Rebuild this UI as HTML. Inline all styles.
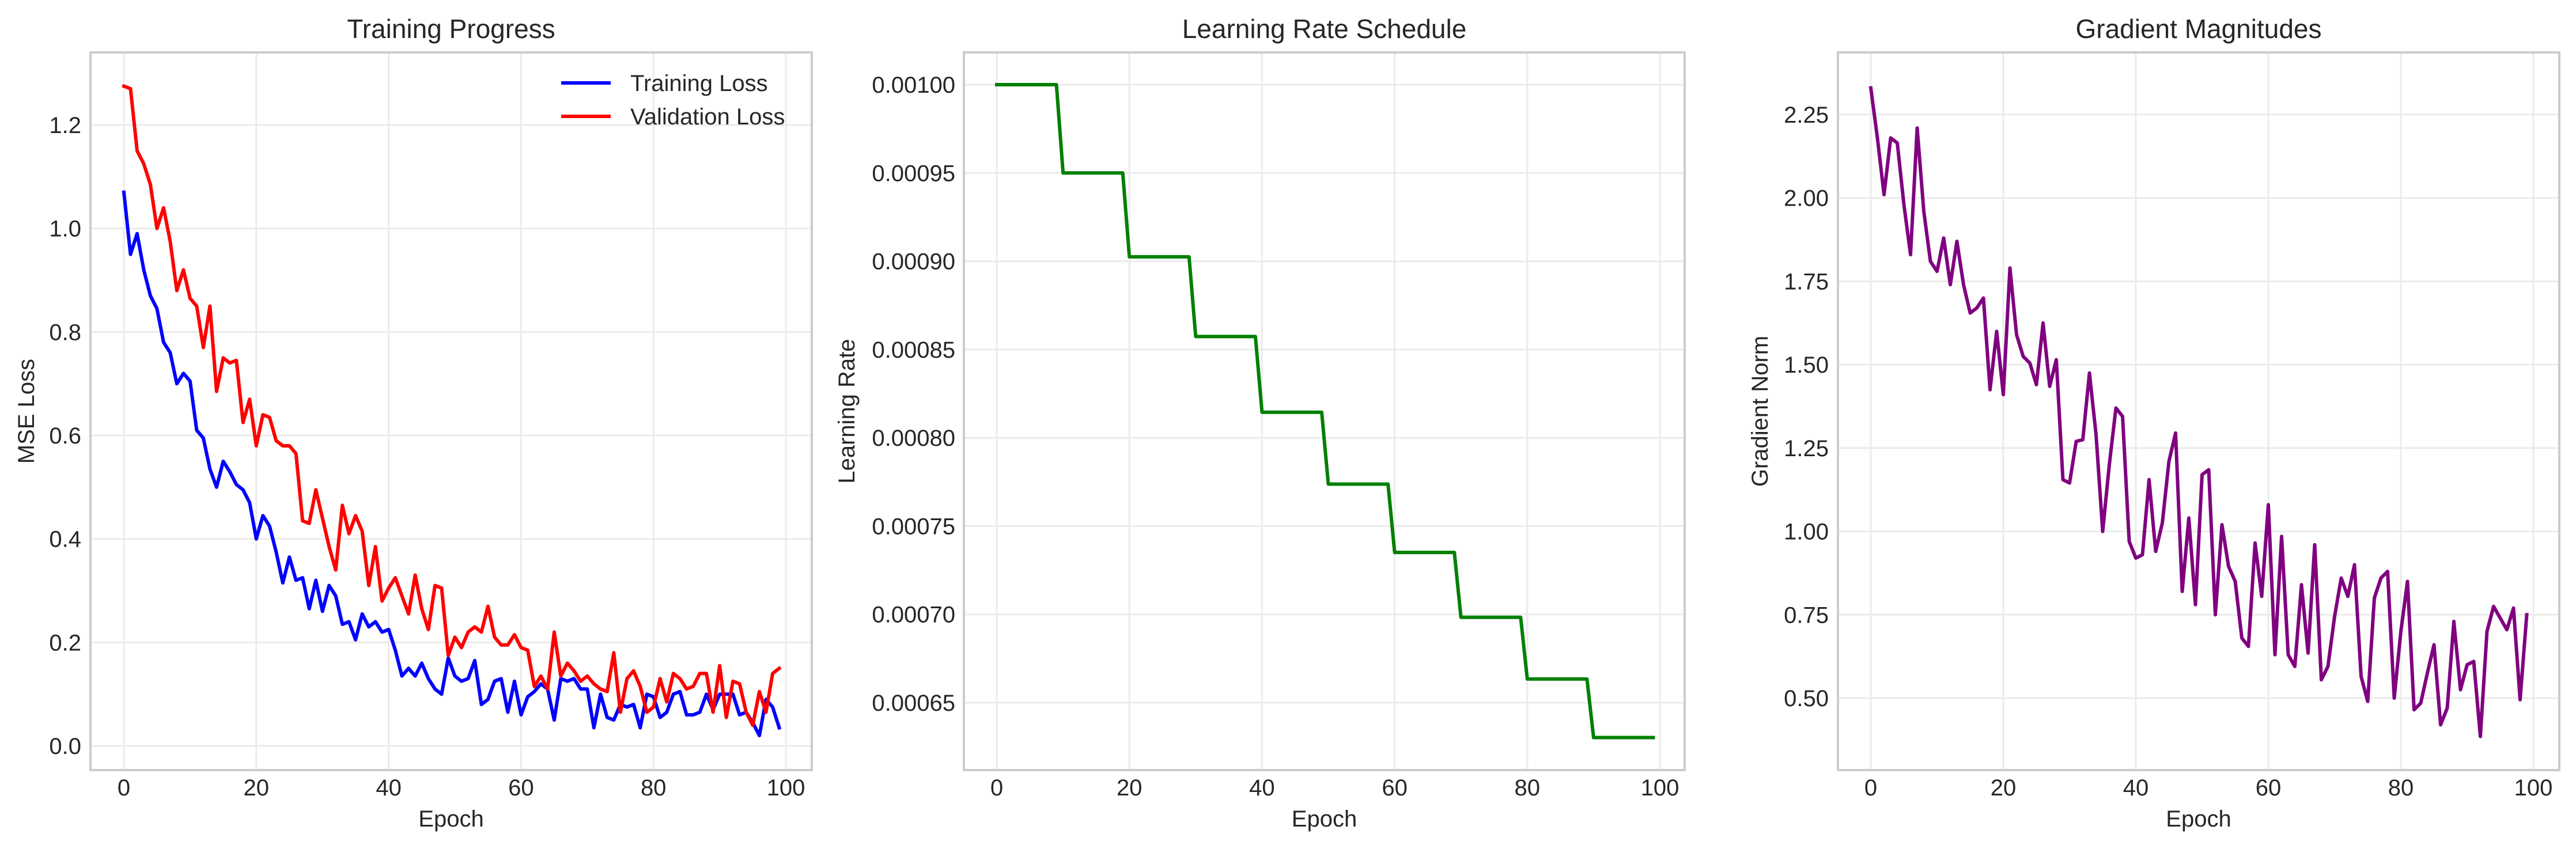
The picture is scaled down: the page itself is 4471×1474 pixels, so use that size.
<!DOCTYPE html>
<html><head><meta charset="utf-8"><style>
html,body{margin:0;padding:0;background:#fff}
svg{display:block;font-family:"Liberation Sans",Arial,sans-serif}
</style></head><body>
<svg id="fig" width="4471" height="1474" viewBox="0 0 4471 1474" xmlns="http://www.w3.org/2000/svg"></svg>
<script>
const epochs = Array.from({length:100},(_, i)=>i);
const trainLoss = [1.07,0.95,0.99,0.92,0.87,0.845,0.78,0.76,0.70,0.72,0.705,0.61,0.595,0.535,0.50,0.55,0.53,0.505,0.495,0.47,0.40,0.445,0.425,0.375,0.315,0.365,0.32,0.325,0.265,0.32,0.26,0.31,0.29,0.235,0.24,0.205,0.255,0.23,0.24,0.22,0.225,0.185,0.135,0.15,0.135,0.16,0.13,0.11,0.10,0.17,0.135,0.125,0.13,0.165,0.08,0.09,0.125,0.13,0.065,0.125,0.06,0.095,0.105,0.12,0.11,0.05,0.13,0.125,0.13,0.11,0.11,0.035,0.10,0.055,0.05,0.08,0.075,0.08,0.035,0.10,0.095,0.055,0.065,0.10,0.105,0.06,0.06,0.065,0.10,0.07,0.10,0.10,0.10,0.06,0.065,0.045,0.02,0.09,0.075,0.035];
const valLoss = [1.275,1.27,1.15,1.125,1.085,1.00,1.04,0.975,0.88,0.92,0.865,0.85,0.77,0.85,0.685,0.75,0.74,0.745,0.625,0.67,0.58,0.64,0.635,0.59,0.58,0.58,0.565,0.435,0.43,0.495,0.44,0.385,0.34,0.465,0.41,0.445,0.415,0.31,0.385,0.28,0.305,0.325,0.29,0.255,0.33,0.265,0.225,0.31,0.305,0.175,0.21,0.19,0.22,0.23,0.22,0.27,0.21,0.195,0.195,0.215,0.19,0.185,0.115,0.135,0.11,0.22,0.135,0.16,0.145,0.125,0.135,0.12,0.11,0.105,0.18,0.065,0.13,0.145,0.115,0.065,0.075,0.13,0.085,0.14,0.13,0.11,0.115,0.14,0.14,0.065,0.155,0.055,0.125,0.12,0.065,0.04,0.105,0.065,0.14,0.15];
const lrValues = [0.001,0.00095,0.0009025,0.000857375,0.00081450625,0.0007737809375,0.000735091890625,0.00069833729609375,0.0006634204312890625,0.0006302494097246094];
const gradNorm = [2.33,2.18,2.01,2.18,2.165,1.98,1.83,2.21,1.96,1.81,1.78,1.88,1.74,1.87,1.74,1.655,1.67,1.70,1.425,1.60,1.41,1.79,1.59,1.525,1.505,1.44,1.625,1.435,1.515,1.155,1.145,1.27,1.275,1.475,1.29,1.00,1.20,1.37,1.345,0.97,0.92,0.93,1.155,0.94,1.025,1.21,1.295,0.82,1.04,0.78,1.17,1.185,0.75,1.02,0.895,0.85,0.68,0.655,0.965,0.805,1.08,0.63,0.985,0.63,0.595,0.84,0.635,0.96,0.555,0.595,0.745,0.86,0.805,0.90,0.565,0.49,0.80,0.86,0.88,0.50,0.70,0.85,0.465,0.485,0.575,0.66,0.42,0.47,0.73,0.525,0.60,0.61,0.385,0.70,0.775,0.74,0.705,0.77,0.495,0.75];
const xTicks = [0,20,40,60,80,100];
const lossTicks = [0,0.2,0.4,0.6,0.8,1.0,1.2];
const lrTicks = [0.00065,0.0007,0.00075,0.0008,0.00085,0.0009,0.00095,0.001];
const gradTicks = [0.5,0.75,1.0,1.25,1.5,1.75,2.0,2.25];

const NS='http://www.w3.org/2000/svg';
const svg=document.getElementById('fig');
function mk(tag,attrs,parent){const e=document.createElementNS(NS,tag);for(const k in attrs)e.setAttribute(k,attrs[k]);(parent||svg).appendChild(e);return e;}
function lin(d0,d1,p0,p1){return v=>p0+(v-d0)*(p1-p0)/(d1-d0);}

function panel(cfg){
  const g=mk('g',{});
  
  
  const X=lin(0,100,cfg.x0,cfg.x100), Y=lin(cfg.yv0,cfg.yv1,cfg.yp0,cfg.yp1);
  const top=91,bot=1337;
  cfg.yticks.forEach((t)=>{
    const y=Y(t);
    const gl=mk('line',{x1:cfg.left,x2:cfg.right,y1:y,y2:y,stroke:'#ebebeb','stroke-width':3},g);
    
    
    const tl=mk('text',{x:cfg.tickRight,y:y+14,'text-anchor':'end','font-size':40,fill:'#262626'},g);
    tl.textContent=cfg.fmt(t);
    
    
  });
  xTicks.forEach(t=>{
    const x=X(t);
    const gl=mk('line',{x1:x,x2:x,y1:top,y2:bot,stroke:'#ebebeb','stroke-width':3},g);
    
    
    const tl=mk('text',{x:x,y:1381,'text-anchor':'middle','font-size':40,fill:'#262626'},g);
    tl.textContent=String(t);
    
    
  });
  cfg.series.forEach(s=>{
    const d=s.values.map((v,i)=>(i?'L':'M')+X(epochs[i]).toFixed(1)+','+Y(v).toFixed(1)).join('');
    const p=mk('path',{d:d,fill:'none',stroke:s.color,'stroke-width':6,'stroke-linejoin':'round','stroke-linecap':'square'},g);
    
    
  });
  const fr=mk('rect',{x:cfg.left,y:top,width:cfg.right-cfg.left,height:bot-top,fill:'none',stroke:'#cccccc','stroke-width':4},g);
  
  
  const ti=mk('text',{x:(cfg.left+cfg.right)/2,y:66,'text-anchor':'middle','font-size':46,fill:'#262626'},g);
  ti.textContent=cfg.title;
  
  
  const xl=mk('text',{x:(cfg.left+cfg.right)/2,y:1435,'text-anchor':'middle','font-size':40,fill:'#262626'},g);
  xl.textContent='Epoch';
  
  
  const cy=(top+bot)/2;
  const yl=mk('text',{x:cfg.ylabX,y:cy,'text-anchor':'middle','font-size':40,fill:'#262626',transform:`rotate(-90 ${cfg.ylabX} ${cy})`},g);
  yl.textContent=cfg.ylabel;
  
  
  return g;
}

const lrSeries=epochs.map(i=>lrValues[Math.floor(i/10)]);

panel({name:'training-progress-panel',title:'Training Progress',ylabel:'MSE Loss',left:157,right:1409,x0:215,x100:1364,yv0:0,yv1:1.2,yp0:1295,yp1:217,tickRight:141,ylabX:59,
  yticks:lossTicks,fmt:t=>t.toFixed(1),
  series:[{name:'training-loss-line',values:trainLoss,color:'#0000ff'},{name:'validation-loss-line',values:valLoss,color:'#ff0000'}]});
panel({name:'learning-rate-panel',title:'Learning Rate Schedule',ylabel:'Learning Rate',left:1673,right:2924,x0:1730,x100:2881,yv0:0.001,yv1:0.00065,yp0:147,yp1:1220,tickRight:1658,ylabX:1483,
  yticks:lrTicks,fmt:t=>t.toFixed(5),
  series:[{name:'learning-rate-line',values:lrSeries,color:'#008000'}]});
panel({name:'gradient-magnitudes-panel',title:'Gradient Magnitudes',ylabel:'Gradient Norm',left:3190,right:4442,x0:3247,x100:4397,yv0:2.25,yv1:0.5,yp0:199,yp1:1212,tickRight:3174,ylabX:3068,
  yticks:gradTicks,fmt:t=>t.toFixed(2),
  series:[{name:'gradient-norm-line',values:gradNorm,color:'#800080'}]});

const lg=mk('g',{});


[['Training Loss','#0000ff',144],['Validation Loss','#ff0000',202]].forEach(([lab,c,y])=>{
  const l=mk('line',{x1:974,x2:1060,y1:y,y2:y,stroke:c,'stroke-width':6},lg);
  
  
  const t=mk('text',{x:1094,y:y+14,'font-size':40,fill:'#262626'},lg);
  t.textContent=lab;
  
  
});
</script>
</body></html>
